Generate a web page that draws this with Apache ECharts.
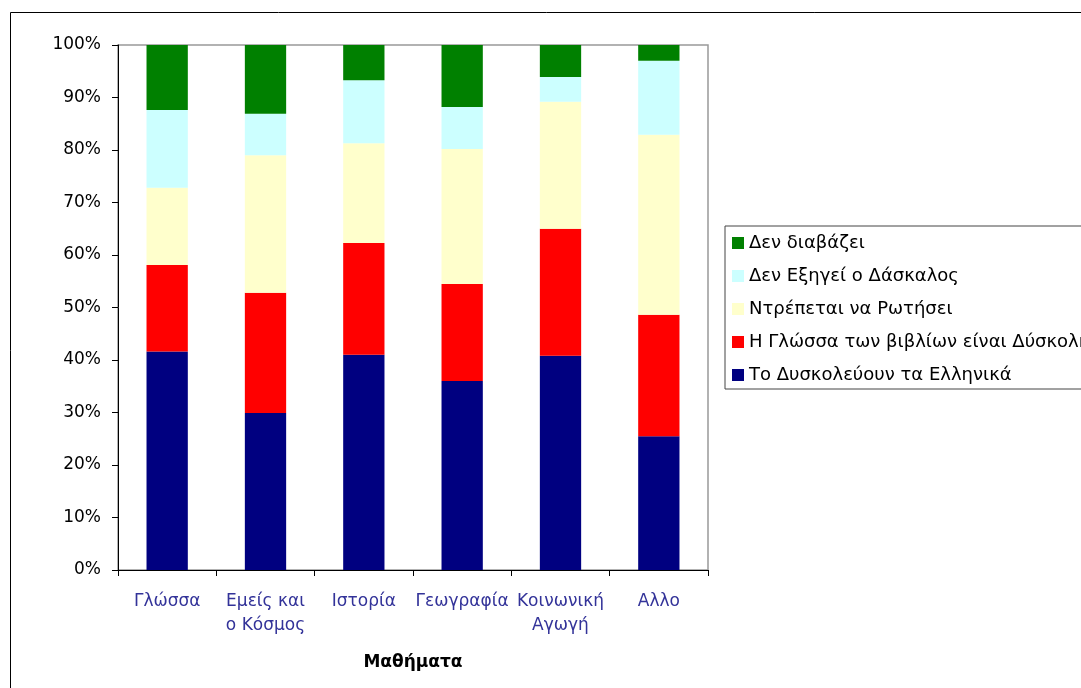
<!DOCTYPE html>
<html><head><meta charset="utf-8">
<script src="https://cdn.jsdelivr.net/npm/echarts@6/dist/echarts.min.js"></script>
<style>html,body{margin:0;padding:0;background:#fff}#c{width:1081px;height:688px}</style>
</head><body><div id="c"></div>
<script>
const categories = ['Γλώσσα', 'Εμείς και\nο Κόσμος', 'Ιστορία', 'Γεωγραφία', 'Κοινωνική\nΑγωγή', 'Αλλο'];
const seriesNames = ['Το Δυσκολεύουν τα Ελληνικά', 'Η Γλώσσα των βιβλίων είναι Δύσκολη', 'Ντρέπεται να Ρωτήσει', 'Δεν Εξηγεί ο Δάσκαλος', 'Δεν διαβάζει'];
const dysk = [41.6, 29.9, 41.0, 36.0, 40.8, 25.5];
const glossa = [16.5, 22.9, 21.3, 18.5, 24.2, 23.1];
const ntrep = [14.7, 26.2, 19.0, 25.7, 24.2, 34.3];
const exig = [14.8, 7.9, 12.0, 8.0, 4.7, 14.1];
const diav = [12.4, 13.1, 6.7, 11.8, 6.1, 3.0];
const yTicks = [0, 10, 20, 30, 40, 50, 60, 70, 80, 90, 100];
const colors = ['#000080', '#ff0000', '#ffffcc', '#ccffff', '#008000'];
const values = [dysk, glossa, ntrep, exig, diav];

const chart = echarts.init(document.getElementById('c'), null, {renderer: 'canvas'});
const font = "'DejaVu Sans', sans-serif";
chart.setOption({
  animation: false,
  textStyle: {fontFamily: font},
  graphic: [{
    type: 'rect', shape: {x: 10.5, y: 12.5, width: 1200, height: 800},
    style: {fill: 'none', stroke: '#000', lineWidth: 1}, silent: true, z: -1
  }],
  grid: {left: 118, top: 45, right: 373, bottom: 118, show: true, borderColor: '#999', borderWidth: 1.5, containLabel: false},
  legend: {
    orient: 'vertical', left: 725, top: 226,
    data: seriesNames.slice().reverse(),
    itemWidth: 12, itemHeight: 12, itemGap: 13,
    padding: [7, 8, 4, 7],
    borderColor: '#444', borderWidth: 1,
    icon: 'rect',
    textStyle: {fontSize: 18, color: '#000', fontFamily: font, lineHeight: 20, padding: [0, 0, 0, 0]}
  },
  xAxis: {
    type: 'category', data: categories,
    name: 'Μαθήματα', nameLocation: 'middle', nameGap: 84,
    nameTextStyle: {fontSize: 17, fontWeight: 'bold', color: '#000', fontFamily: font},
    axisLine: {lineStyle: {color: '#000', width: 1}},
    axisTick: {show: true, inside: false, length: 6, lineStyle: {color: '#000'}},
    axisLabel: {fontSize: 17, color: '#333399', margin: 20, lineHeight: 24, interval: 0, fontFamily: font}
  },
  yAxis: {
    type: 'value', min: 0, max: 100, interval: 10,
    axisLine: {show: true, lineStyle: {color: '#000', width: 1}},
    axisTick: {show: true, length: 6, lineStyle: {color: '#000'}},
    splitLine: {show: false},
    axisLabel: {fontSize: 17, color: '#000', margin: 17, fontFamily: font,
      formatter: v => (yTicks.indexOf(v) >= 0 ? v + '%' : '')}
  },
  series: seriesNames.map((n, i) => ({
    name: n, type: 'bar', stack: 'all', data: values[i],
    barWidth: '42%',
    itemStyle: {color: colors[i]}
  }))
});
</script></body></html>
